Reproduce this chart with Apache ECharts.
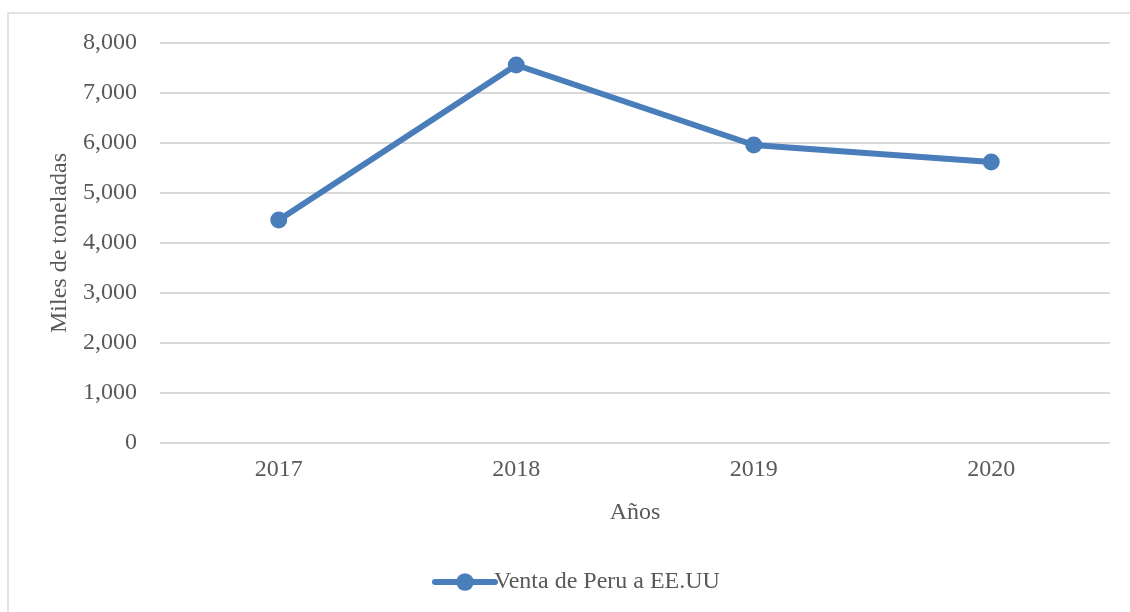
<!DOCTYPE html>
<html>
<head>
<meta charset="utf-8">
<script src="https://cdn.jsdelivr.net/npm/echarts@6/dist/echarts.min.js"></script>
<style>
  html, body { margin: 0; padding: 0; background: #fff; }
  #main { width: 1130px; height: 612px; }
</style>
</head>
<body>
<div id="main"></div>
<script>
const years = ["2017", "2018", "2019", "2020"];
const ventas = [4460, 7560, 5960, 5620];
const seriesName = "Venta de Peru a EE.UU";

let chartDom = document.getElementById("main");
let myChart = echarts.init(chartDom);
const font = "Liberation Serif";
const txt = "#595959";
const blue = "#4a7ebb";

let option = {
  animation: false,
  textStyle: { fontFamily: font, color: txt },
  graphic: [
    {
      type: "rect",
      shape: { x: 8, y: 13, width: 1400, height: 800 },
      style: { fill: "none", stroke: "#d9d9d9", lineWidth: 1.5 },
    },
  ],
  grid: { left: 160, right: 20, top: 43, bottom: 169 },
  legend: {
    left: 427,
    top: 565,
    itemWidth: 60,
    itemHeight: 22,
    itemGap: 10,
    lineStyle: { width: 6, cap: "round" },
    textStyle: { fontFamily: font, fontSize: 24, color: txt, padding: [0, 0, 0, -6] },
    data: [seriesName],
  },
  xAxis: {
    type: "category",
    data: years,
    boundaryGap: true,
    name: "Años",
    nameLocation: "middle",
    nameGap: 58,
    nameTextStyle: { fontFamily: font, fontSize: 24, color: txt },
    axisLine: { show: false },
    axisTick: { show: false },
    axisLabel: { margin: 15, fontFamily: font, fontSize: 24, color: txt },
  },
  yAxis: {
    type: "value",
    min: 0,
    max: 8000,
    interval: 1000,
    name: "Miles de toneladas",
    nameLocation: "middle",
    nameGap: 88,
    nameTextStyle: { fontFamily: font, fontSize: 24, color: txt },
    axisLine: { show: false },
    axisTick: { show: false },
    axisLabel: {
      margin: 23,
      fontFamily: font,
      fontSize: 24,
      color: txt,
      formatter: (v) => v.toLocaleString("en-US"),
    },
    splitLine: { lineStyle: { color: "#d9d9d9", width: 2 } },
  },
  series: [
    {
      name: seriesName,
      type: "line",
      data: ventas,
      symbol: "circle",
      symbolSize: 17,
      color: blue,
      lineStyle: { width: 6, color: blue },
      itemStyle: { color: blue },
    },
  ],
};
myChart.setOption(option);
</script>
</body>
</html>
